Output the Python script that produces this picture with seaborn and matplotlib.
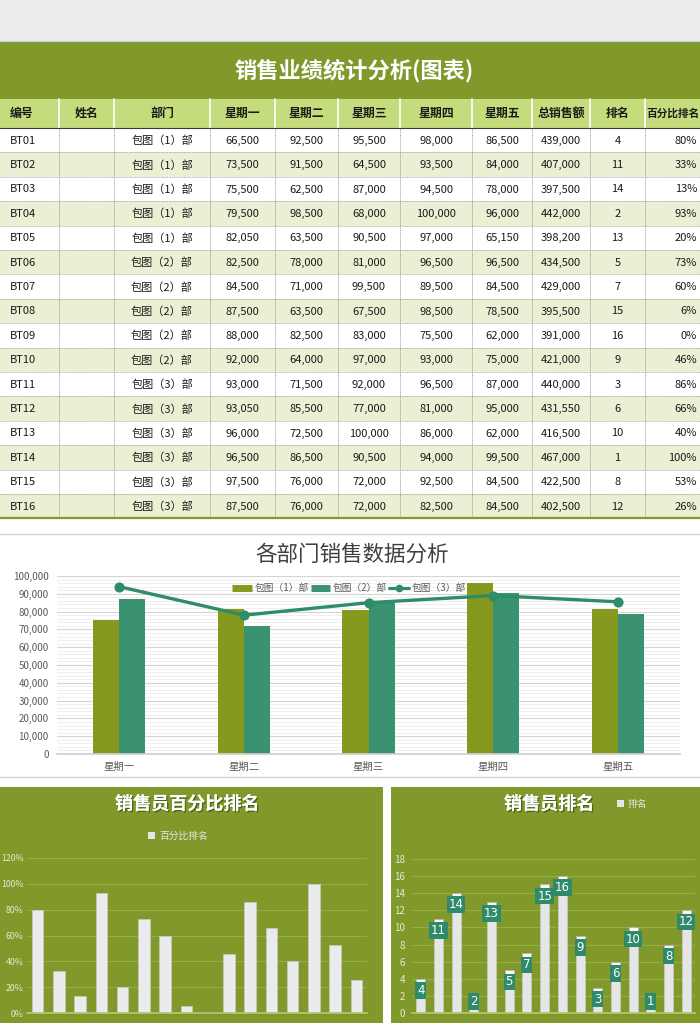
import numpy as np
import pandas as pd
import matplotlib
matplotlib.use("Agg")
import matplotlib.pyplot as plt
import seaborn as sns
from matplotlib.patches import Rectangle, Patch
from matplotlib.lines import Line2D
from matplotlib.ticker import MultipleLocator, FuncFormatter
import matplotlib.patheffects as pe

# ---------------- data ----------------
header_labels = ["编号", "姓名", "部门", "星期一", "星期二", "星期三", "星期四", "星期五", "总销售额", "排名", "百分比排名"]
ids = ["BT01", "BT02", "BT03", "BT04", "BT05", "BT06", "BT07", "BT08",
       "BT09", "BT10", "BT11", "BT12", "BT13", "BT14", "BT15", "BT16"]
depts = ["包图（1）部", "包图（1）部", "包图（1）部", "包图（1）部", "包图（1）部",
         "包图（2）部", "包图（2）部", "包图（2）部", "包图（2）部", "包图（2）部",
         "包图（3）部", "包图（3）部", "包图（3）部", "包图（3）部", "包图（3）部", "包图（3）部"]
mon = [66500, 73500, 75500, 79500, 82050, 82500, 84500, 87500, 88000, 92000, 93000, 93050, 96000, 96500, 97500, 87500]
tue = [92500, 91500, 62500, 98500, 63500, 78000, 71000, 63500, 82500, 64000, 71500, 85500, 72500, 86500, 76000, 76000]
wed = [95500, 64500, 87000, 68000, 90500, 81000, 99500, 67500, 83000, 97000, 92000, 77000, 100000, 90500, 72000, 72000]
thu = [98000, 93500, 94500, 100000, 97000, 96500, 89500, 98500, 75500, 93000, 96500, 81000, 86000, 94000, 92500, 82500]
fri = [86500, 84000, 78000, 96000, 65150, 96500, 84500, 78500, 62000, 75000, 87000, 95000, 62000, 99500, 84500, 84500]
totals = [439000, 407000, 397500, 442000, 398200, 434500, 429000, 395500,
          391000, 421000, 440000, 431550, 416500, 467000, 422500, 402500]
ranks = [4, 11, 14, 2, 13, 5, 7, 15, 16, 9, 3, 6, 10, 1, 8, 12]
pct_rank = [0.80, 0.33, 0.13, 0.93, 0.20, 0.73, 0.60, 0.06, 0.00, 0.46, 0.86, 0.66, 0.40, 1.00, 0.53, 0.26]

days = ["星期一", "星期二", "星期三", "星期四", "星期五"]
dept_names = ["包图（1）部", "包图（2）部", "包图（3）部"]
dept1_sales = [75500, 81500, 81000, 96000, 81500]
dept2_sales = [87000, 72000, 85000, 90500, 78500]
dept3_sales = [94000, 78000, 85000, 89000, 85500]

# ---------------- style ----------------
sns.set_theme(style="white")
plt.rcParams["font.family"] = ["Noto Sans CJK SC", "DejaVu Sans"]
plt.rcParams["axes.unicode_minus"] = False

W, H = 700, 1030
GREEN = "#80992a"
OLIVE = "#86991f"
TEAL = "#3a9270"
LINE_C = "#2e8c67"

fig = plt.figure(figsize=(W / 100, H / 100), dpi=100)
fig.patch.set_facecolor("white")


def px_axes(x0, y0, x1, y1):
    return fig.add_axes([x0 / W, 1 - y1 / H, (x1 - x0) / W, (y1 - y0) / H])


# background / table canvas in pixel coordinates
bg = fig.add_axes([0, 0, 1, 1])
bg.set_xlim(0, W)
bg.set_ylim(H, 0)
bg.axis("off")

bg.add_patch(Rectangle((0, 0), W, 41, fc="#ececec", ec="none"))
bg.plot([0, W], [40.5, 40.5], color="#cfcfcf", lw=0.8)
bg.add_patch(Rectangle((0, 41), W, 58, fc=GREEN, ec="none"))
bg.text(354, 71, "销售业绩统计分析(图表)", ha="center", va="center", color="white",
        fontsize=16, fontweight="bold")

col_edges = [0, 59, 114, 210, 275, 338, 400, 472, 532, 590, 645, 700]
head_top, head_bot = 99, 128
row_h = 24.4

# header row
bg.add_patch(Rectangle((0, head_top), W, head_bot - head_top, fc="#c5dc7c", ec="none"))
for xe in col_edges[1:-1]:
    bg.plot([xe, xe], [head_top, head_bot], color="white", lw=1.2)
for j, lab in enumerate(header_labels):
    cy = (head_top + head_bot) / 2
    if j == 0:
        bg.text(10, cy, lab, ha="left", va="center", fontsize=8.6, fontweight="bold", color="#1a1a1a")
    elif j == len(header_labels) - 1:
        bg.text(673, cy, lab, ha="center", va="center", fontsize=7.7, fontweight="bold", color="#1a1a1a")
    else:
        cx = (col_edges[j] + col_edges[j + 1]) / 2
        bg.text(cx, cy, lab, ha="center", va="center", fontsize=8.6, fontweight="bold", color="#1a1a1a")

# data rows
n = len(ids)
for r in range(n):
    y0 = head_bot + r * row_h
    bg.add_patch(Rectangle((0, y0), W, row_h, fc=("white" if r % 2 == 0 else "#e9f0d4"), ec="none"))
    cy = y0 + row_h / 2 + 0.5
    cells = [ids[r], "", depts[r], f"{mon[r]:,}", f"{tue[r]:,}", f"{wed[r]:,}", f"{thu[r]:,}",
             f"{fri[r]:,}", f"{totals[r]:,}", f"{ranks[r]}", f"{round(pct_rank[r] * 100)}%"]
    for j, s in enumerate(cells):
        if not s:
            continue
        if j == 0:
            bg.text(10, cy, s, ha="left", va="center", fontsize=8, color="#1a1a1a")
        elif j == len(cells) - 1:
            bg.text(697, cy, s, ha="right", va="center", fontsize=8, color="#1a1a1a")
        else:
            cx = (col_edges[j] + col_edges[j + 1]) / 2
            bg.text(cx, cy, s, ha="center", va="center", fontsize=8, color="#1a1a1a")
    if r > 0:
        bg.plot([0, W], [y0, y0], color="#9a9a9a", lw=0.6, ls=(0, (1, 1)))
table_bot = head_bot + n * row_h
for xe in col_edges[1:-1]:
    bg.plot([xe, xe], [head_bot, table_bot], color="#8a8a8a", lw=0.6, ls=(0, (1, 1)))
bg.plot([0, W], [head_bot, head_bot], color="#3a3a3a", lw=0.8)
bg.plot([0, W], [table_bot, table_bot], color=GREEN, lw=1.6)

# middle chart frame
bg.plot([0, W], [534, 534], color="#d6d6d6", lw=1)
bg.plot([0, W], [777, 777], color="#d6d6d6", lw=1)
bg.text(352, 555, "各部门销售数据分析", ha="center", va="center", fontsize=15.5, color="#404040")

# bottom panels backgrounds
bg.add_patch(Rectangle((0, 786.7), 382.7, 236.5, fc=GREEN, ec="none"))
bg.add_patch(Rectangle((390.7, 786.7), W - 390.7, 236.5, fc=GREEN, ec="none"))
shadow = [pe.withSimplePatchShadow(offset=(1, -1), shadow_rgbFace="#3f4d10", alpha=0.7), pe.Normal()]
bg.text(187, 804, "销售员百分比排名", ha="center", va="center", fontsize=13, fontweight="bold",
        color="white", path_effects=shadow)
bg.text(549, 804, "销售员排名", ha="center", va="center", fontsize=13, fontweight="bold",
        color="white", path_effects=shadow)

# ---------------- middle combo chart ----------------
ax_m = px_axes(57, 576, 680, 754)
ax_m.set_facecolor("none")
df = pd.DataFrame({
    "day": days + days,
    "dept": [dept_names[0]] * len(days) + [dept_names[1]] * len(days),
    "sales": dept1_sales + dept2_sales,
})
sns.barplot(data=df, x="day", y="sales", hue="dept", palette=[OLIVE, TEAL], width=0.42,
            saturation=1, ax=ax_m, legend=False, linewidth=0, zorder=2)
sns.pointplot(x=days, y=dept3_sales, color=LINE_C, markers="o", markersize=5.5,
              linewidth=2.4, errorbar=None, ax=ax_m, zorder=4)
ax_m.set_xlim(-0.5, len(days) - 0.5)
ax_m.set_ylim(0, 100000)
ax_m.yaxis.set_major_locator(MultipleLocator(10000))
ax_m.yaxis.set_minor_locator(MultipleLocator(2000))
ax_m.yaxis.set_major_formatter(FuncFormatter(lambda v, _: f"{int(v):,}"))
ax_m.grid(which="major", axis="y", color="#d4d4d4", lw=0.8)
ax_m.grid(which="minor", axis="y", color="#ececec", lw=0.6)
ax_m.set_axisbelow(True)
ax_m.tick_params(which="both", length=0)
ax_m.tick_params(axis="y", labelsize=7, labelcolor="#595959", pad=6)
ax_m.tick_params(axis="x", labelsize=7.5, labelcolor="#595959", pad=6)
ax_m.set_xlabel("")
ax_m.set_ylabel("")
for s in ["top", "left", "right"]:
    ax_m.spines[s].set_visible(False)
ax_m.spines["bottom"].set_color("#d0d0d0")
handles = [
    Line2D([], [], color=OLIVE, lw=5, solid_capstyle="butt", label=dept_names[0]),
    Line2D([], [], color=TEAL, lw=5, solid_capstyle="butt", label=dept_names[1]),
    Line2D([], [], color=LINE_C, lw=2.2, marker="o", markersize=4.5, label=dept_names[2]),
]
ax_m.legend(handles=handles, loc="center", bbox_to_anchor=(349 / W, 1 - 588 / H),
            bbox_transform=fig.transFigure, ncol=3, frameon=False, fontsize=7,
            labelcolor="#595959", handlelength=2.0, handletextpad=0.3, columnspacing=0.2)

# ---------------- bottom-left: percent ranking ----------------
ax_l = px_axes(27, 857.7, 367, 1013.3)
ax_l.set_facecolor("none")
sns.barplot(x=ids, y=pct_rank, color="#ebebeb", width=0.55, saturation=1, ax=ax_l,
            edgecolor="#c9c9c9", linewidth=0.5, zorder=2)
ax_l.set_xlim(-0.5, len(ids) - 0.5)
ax_l.set_ylim(0, 1.2)
ax_l.set_yticks(np.arange(0, 1.21, 0.2))
ax_l.yaxis.set_major_formatter(FuncFormatter(lambda v, _: f"{v * 100:.0f}%"))
ax_l.set_xticks([])
ax_l.grid(axis="y", color="#94ad45", lw=0.8)
ax_l.set_axisbelow(True)
ax_l.tick_params(length=0, labelsize=6.3, labelcolor="#e4e9d2", pad=2.5)
for s in ["top", "left", "right"]:
    ax_l.spines[s].set_visible(False)
ax_l.spines["bottom"].set_color("#b3c672")
ax_l.legend(handles=[Patch(fc="#e6e6e6", ec="none", label="百分比排名")], loc="center",
            bbox_to_anchor=(178 / W, 1 - 836 / H), bbox_transform=fig.transFigure,
            frameon=False, fontsize=7, labelcolor="#e6e6e6", handlelength=0.7,
            handleheight=0.7, handletextpad=0.4)

# ---------------- bottom-right: ranking ----------------
ax_r = px_axes(412, 858.7, 695, 1013.3)
ax_r.set_facecolor("none")
sns.barplot(x=ids, y=ranks, color="#e6e6e6", width=0.51, saturation=1, ax=ax_r,
            edgecolor="#c9c9c9", linewidth=0.5, zorder=2)
pos = np.arange(len(ids))
rank_arr = np.array(ranks, dtype=float)
ax_r.bar(pos, 0.4, bottom=rank_arr - 0.4, width=0.51, color="#f8f8f8", edgecolor="#a5a5a5",
         linewidth=0.5, zorder=3)
for i, v in enumerate(ranks):
    ax_r.text(i, max(v - 1.35, 1.35), str(v), ha="center", va="center", color="white",
              fontsize=8.5, family="DejaVu Sans", zorder=5,
              bbox=dict(boxstyle="square,pad=0.15", fc="#2f8a6c", ec="none"))
ax_r.set_xlim(-0.5, len(ids) - 0.5)
ax_r.set_ylim(0, 18)
ax_r.set_yticks(np.arange(0, 19, 2))
ax_r.set_xticks([])
ax_r.grid(axis="y", color="#94ad45", lw=0.8)
ax_r.set_axisbelow(True)
ax_r.tick_params(length=0, labelsize=7, labelcolor="#e4e9d2", pad=5)
for s in ["top", "left", "right"]:
    ax_r.spines[s].set_visible(False)
ax_r.spines["bottom"].set_color("#b3c672")
ax_r.legend(handles=[Patch(fc="#e6e6e6", ec="none", label="排名")], loc="center",
            bbox_to_anchor=(632 / W, 1 - 804 / H), bbox_transform=fig.transFigure,
            frameon=False, fontsize=7, labelcolor="#e6e6e6", handlelength=0.7,
            handleheight=0.7, handletextpad=0.4)

fig.savefig("out.png", dpi=100)
